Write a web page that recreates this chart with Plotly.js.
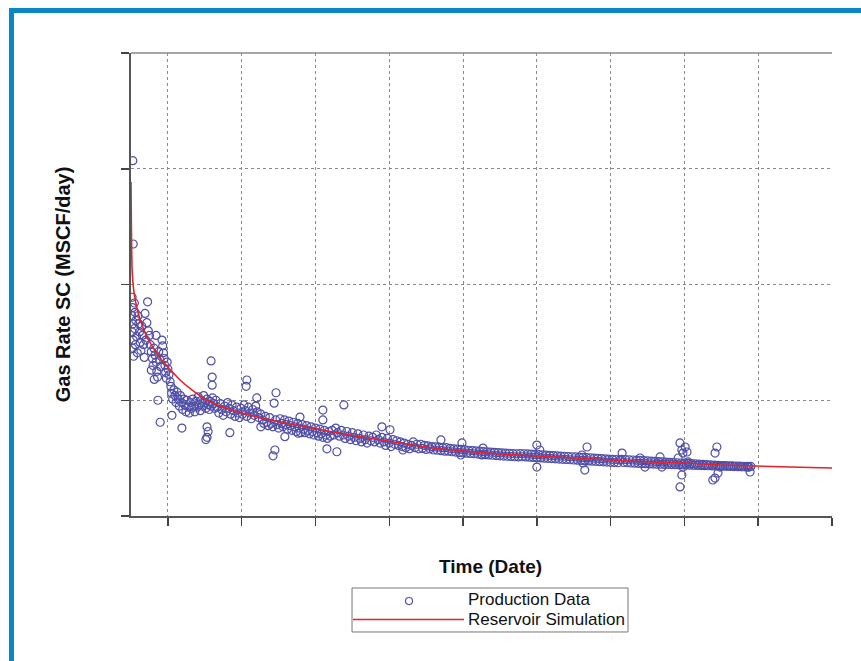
<!DOCTYPE html>
<html>
<head>
<meta charset="utf-8">
<script src="https://cdn.plot.ly/plotly-3.0.1.min.js"></script>
<style>html,body{margin:0;padding:0;background:#fff;}#chart{width:861px;height:661px;}</style>
</head>
<body>
<div id="chart"></div>
<script>
// Production data: day since start, gas rate (MSCF/day)
const prodDays = [
  3,4,2,5,3,6,4,7,5,6, 9,11,13,10,15,12,17,19,21,23, 25,27,29,31,34,36,38,40,43,45, 47,50,52,55,55,58,60,62,63,65, 68,68,70,72,73,75,78,79,80,84, 86,88,90,92,94,96,98,100,103,106,
  108,110,111,113,116,119,122,125,128,131, 134,137,138,140,143,146,149,152,155,158, 161,164,167,170,173,176,179,182,185,188, 191,194,197,200,203,203,206,206,206,209, 209,212,215,217,218,220,220,221,224,227,
  230,234,238,242,246,250,254,258,262,266, 268,270,274,278,282,286,290,294,298,302, 306,310,312,314,314,318,322,326,330,334, 338,341,342,346,
  352,352,356,360,364,368,372,376,380,384, 385,388,390,392,393,396,400,404,408,412, 416,417,420,424,428,432,436,440,444,448, 452,453,456,458,460,464,468,472,476,480, 484,488,492,496,500,504,508,512,516,520, 520,520,524,528,531,532,536,540,
  545,550,555,558,560,565,570,575,577,580, 585,590,595,600,605,610,615,620,625,630, 635,640,645,650,655,660,665,670,675,680, 680,685,690,695,700,702,705,710,715,720, 725,730,735,737,740,745,750,755,760,765, 770,775,780,
  785,790,795,800,805,810,815,820,825,830, 835,840,840,845,850,855,860,865,870,875, 880,885,890,894,895,897,900,905,910,915, 920,925,930,935,940,945,950,951,954,955, 960,965,970,975,980,985,990,995,1000,1005, 1010,1015,1020,1025,1030,1035,1040,1045,1050,
  1055,1060,1065,1070,1075,1080,1085,1090,1095,1100, 1100,1100,1105,1108,1110,1115,1120,1125,1130,1135, 1140,1145,1150,1155,1160,1165,1170,1175,1180,1185, 1190,1195,1200,1205,1210,1215,1220,1222,1225,1225, 1230,1230,1235,1236,1240,1245,1250,1255,1260,1265, 1270,1275,1280,1285,1290,1295,1300,1305,1310,1315, 1320,1325,
  1330,1331,1335,1340,1345,1350,1355,1360,1365,1370, 1375,1380,1380,1385,1390,1393,1395,1400,1405,1410, 1415,1420,1425,1430,1434,1435,1439,1440,1445,1450, 1455,1460,1465,1470,1475,1480,1483,1485,1488,1488, 1490,1493,1493,1495,1496,1496,1500,1502,1505,1507, 1510,1510,1515,1520,1525,1530,1535,1540,1545,1550, 1555,1560,1565,1570,1575,1577,1580,1583,1583,1585, 1588,1590,1591,1595,1596,1600,1605,1610,1615,1620, 1625,1630,1635,1640,1645,1650,1655,1660,1665,1670, 1672,1675,1678,1680
];
const prodRate = [
  1890,1800,1730,1660,1590,1520,1450,1380,3070,2350, 1840,1760,1690,1620,1550,1480,1410,1730,1660,1590, 1500,1430,1640,1560,1480,1370,1750,1520,1670,1850, 1600,1560,1480,1420,1260,1360,1300,1450,1180,1390, 1330,1560,1250,1200,1000,1420,1350,810,1290,1520, 1470,1410,1360,1300,1240,1190,1330,1270,1220,1160,
  1120,1060,870,1010,1090,1040,980,1070,1010,950, 1040,980,760,920,1010,960,900,1000,940,890, 980,930,1010,950,900,990,940,1030,960,910, 1000,950,1040,980,930,660,1010,770,680,960, 730,920,990,1340,950,1200,1130,1020,970,930,
  1000,940,890,970,920,870,950,900,980,930, 720,880,960,910,860,940,890,850,930,880, 960,910,1120,860,1175,940,890,840,920,870, 950,1020,900,850,
  880,770,830,800,860,810,780,850,800,770, 520,975,570,830,1065,790,760,840,800,770, 830,685,790,750,820,780,740,810,770,730, 800,715,760,855,720,790,750,720,780,740, 710,770,730,700,760,720,690,750,710,680, 915,830,740,700,580,670,730,690,
  740,700,760,555,720,690,740,700,960,670, 730,690,660,720,680,650,710,670,640,700, 660,630,690,650,680,640,700,660,630,680, 770,640,610,670,630,745,600,660,620,650, 610,640,600,570,630,590,620,580,610,640, 590,620,580,
  620,585,610,575,605,580,600,570,598,568, 595,565,657,590,560,590,560,585,555,580, 552,578,548,527,575,631,545,572,543,568, 540,565,538,562,535,560,532,527,587,556, 530,554,528,552,525,550,522,548,520,546, 518,544,516,542,514,540,512,538,510,
  540,512,538,510,536,508,534,506,532,504, 613,423,530,570,502,528,500,526,498,524, 496,522,494,520,492,518,490,516,488,514, 486,512,484,510,482,508,480,527,506,458, 478,397,504,596,476,502,474,500,472,498, 470,496,468,494,466,492,464,490,462,488, 460,486,
  490,544,462,488,460,486,458,484,456,482, 455,480,501,454,478,423,452,476,450,474, 449,472,448,470,510,447,423,468,446,466, 445,464,444,462,443,460,501,442,631,251, 458,570,354,441,544,423,456,596,440,553, 454,467,439,452,438,450,437,448,436,446, 435,444,434,442,433,311,440,544,328,432, 596,438,371,431,423,436,430,435,429,434, 428,433,427,432,426,431,425,430,424,429, 423,423,380,428
];
// Reservoir simulation curve
const simDays = [0,1,3,8,16,27,41,57,79,100,133,165,200,241,301,377,504,594,697,797,900,1000,1100,1203,1304,1407,1502,1597,1691,1786,1900];
const simRate = [2886,2500,2128,1935,1797,1676,1564,1469,1365,1287,1175,1089,1011,950,890,829,752,700,648,596,562,536,518,501,484,467,458,441,432,423,415];

const seriesNames = ['Production Data', 'Reservoir Simulation'];
const xTitle = 'Time (Date)';
const yTitle = 'Gas Rate SC (MSCF/day)';
const markerColor = '#4f4fa8';
const lineColor = '#e8202a';

const traces = [
  {x: prodDays, y: prodRate, type: 'scatter', mode: 'markers', name: seriesNames[0],
   marker: {symbol: 'circle-open', size: 8, color: markerColor, line: {width: 1.2, color: markerColor}}},
  {x: simDays, y: simRate, type: 'scatter', mode: 'lines', name: seriesNames[1],
   line: {color: lineColor, width: 1.6, shape: 'spline', smoothing: 0.6}}
];

const axisCommon = {
  showticklabels: false, ticks: 'outside', ticklen: 8, tickcolor: '#444', tickwidth: 1.5,
  showline: true, linecolor: '#555', linewidth: 2,
  showgrid: true, gridcolor: '#8a8a8a', griddash: 'dot', gridwidth: 1, zeroline: false
};

const legendFont = {size: 17, color: '#111', family: 'Liberation Sans, Arial, sans-serif'};

const layout = {
  width: 861, height: 661,
  margin: {l: 131, r: 29, t: 53, b: 145},
  paper_bgcolor: '#ffffff', plot_bgcolor: '#ffffff',
  font: {family: 'Liberation Sans, Arial, sans-serif', color: '#111'},
  showlegend: false,
  xaxis: Object.assign({}, axisCommon, {
    range: [0, 1900], tickmode: 'linear', tick0: 100, dtick: 200
  }),
  yaxis: Object.assign({}, axisCommon, {
    range: [0, 4000], tickmode: 'linear', tick0: 0, dtick: 1000,
    title: {text: '<b>' + yTitle + '</b>', font: {size: 20, color: '#111'}, standoff: 45}
  }),
  shapes: [
    {type: 'line', xref: 'paper', yref: 'paper', x0: 0, x1: 1, y0: 1, y1: 1, line: {color: '#888', width: 1.5}},
    {type: 'line', xref: 'paper', yref: 'paper', x0: -0.174, x1: 1.061, y0: 1.0918, y1: 1.0918, line: {color: '#0a86c4', width: 5}},
    {type: 'line', xref: 'paper', yref: 'paper', x0: -0.1705, x1: -0.1705, y0: 1.0972, y1: -0.343, line: {color: '#0a86c4', width: 5}},
    {type: 'rect', xref: 'paper', yref: 'paper', x0: 0.3153, x1: 0.7090, y0: -0.1555, y1: -0.2505, line: {color: '#777', width: 1}, fillcolor: '#fff'},
    {type: 'circle', xref: 'paper', yref: 'paper', x0: 0.3916, x1: 0.4016, y0: -0.1760, y1: -0.1912, line: {color: markerColor, width: 1.2}},
    {type: 'line', xref: 'paper', yref: 'paper', x0: 0.3167, x1: 0.4750, y0: -0.2235, y1: -0.2235, line: {color: lineColor, width: 1.6}}
  ],
  annotations: [
    {text: '<b>' + xTitle + '</b>', xref: 'paper', yref: 'paper', x: 0.5128, y: -0.108, xanchor: 'center', yanchor: 'middle', showarrow: false, font: {size: 19, color: '#111'}},
    {text: seriesNames[0], xref: 'paper', yref: 'paper', x: 0.4779, y: -0.1814, xanchor: 'left', yanchor: 'middle', showarrow: false, font: legendFont},
    {text: seriesNames[1], xref: 'paper', yref: 'paper', x: 0.4779, y: -0.2235, xanchor: 'left', yanchor: 'middle', showarrow: false, font: legendFont}
  ]
};

Plotly.newPlot('chart', traces, layout, {staticPlot: true, displayModeBar: false});
</script>
</body>
</html>
